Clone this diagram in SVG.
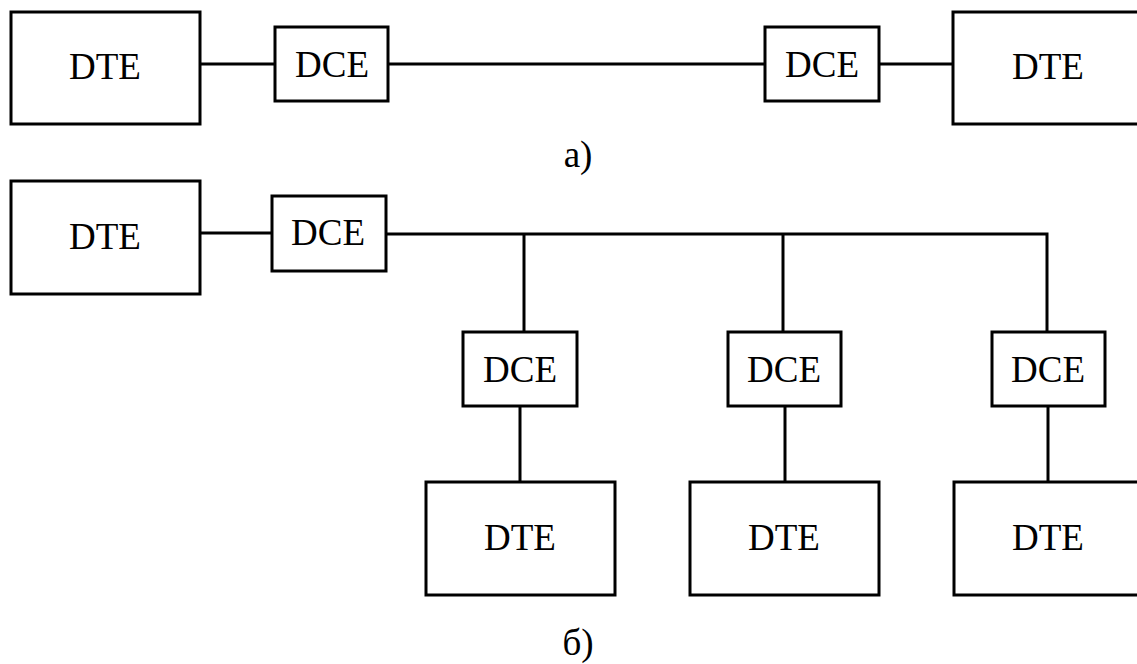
<svg xmlns="http://www.w3.org/2000/svg" width="1137" height="664" viewBox="0 0 1137 664">
<style>
.box{fill:#fff;stroke:#000;stroke-width:3}
.c{fill:none;stroke:#000;stroke-width:3}
</style>
<rect width="1137" height="664" fill="#fff"/>
<g id="connectors">
<line class="c" x1="200" y1="64" x2="275" y2="64"/>
<line class="c" x1="388" y1="64" x2="765" y2="64"/>
<line class="c" x1="879" y1="64" x2="953" y2="64"/>
<line class="c" x1="200" y1="233" x2="272" y2="233"/>
<polyline class="c" points="386,234 1047,234 1047,332"/>
<line class="c" x1="524" y1="234" x2="524" y2="332"/>
<line class="c" x1="783" y1="234" x2="783" y2="332"/>
<line class="c" x1="520" y1="406" x2="520" y2="482"/>
<line class="c" x1="785" y1="406" x2="785" y2="482"/>
<line class="c" x1="1048" y1="406" x2="1048" y2="482"/>
</g>
<g font-family="Liberation Serif, Times New Roman, serif" font-size="37" text-anchor="middle" fill="#000">
<g id="a-dte1"><rect class="box" x="11" y="12" width="189" height="112"/><text x="105" y="79">DTE</text></g>
<g id="a-dce1"><rect class="box" x="275" y="27" width="113" height="74"/><text x="332" y="77">DCE</text></g>
<g id="a-dce2"><rect class="box" x="765" y="27" width="114" height="74"/><text x="822" y="77">DCE</text></g>
<g id="a-dte2"><rect class="box" x="953" y="12" width="189" height="112"/><text x="1048" y="79">DTE</text></g>
<g id="label-a"><text x="578" y="167">а)</text></g>
<g id="b-dte0"><rect class="box" x="11" y="181" width="189" height="113"/><text x="105" y="249">DTE</text></g>
<g id="b-dce0"><rect class="box" x="272" y="196" width="114" height="75"/><text x="328" y="245">DCE</text></g>
<g id="b-dce1"><rect class="box" x="463" y="332" width="114" height="74"/><text x="520" y="382">DCE</text></g>
<g id="b-dce2"><rect class="box" x="728" y="332" width="113" height="74"/><text x="784" y="382">DCE</text></g>
<g id="b-dce3"><rect class="box" x="992" y="332" width="113" height="74"/><text x="1048" y="382">DCE</text></g>
<g id="b-dte1"><rect class="box" x="426" y="482" width="189" height="113"/><text x="520" y="550">DTE</text></g>
<g id="b-dte2"><rect class="box" x="690" y="482" width="189" height="113"/><text x="784" y="550">DTE</text></g>
<g id="b-dte3"><rect class="box" x="954" y="482" width="189" height="113"/><text x="1048" y="550">DTE</text></g>
<g id="label-b"><text x="578" y="655">б)</text></g>
</g>
</svg>
